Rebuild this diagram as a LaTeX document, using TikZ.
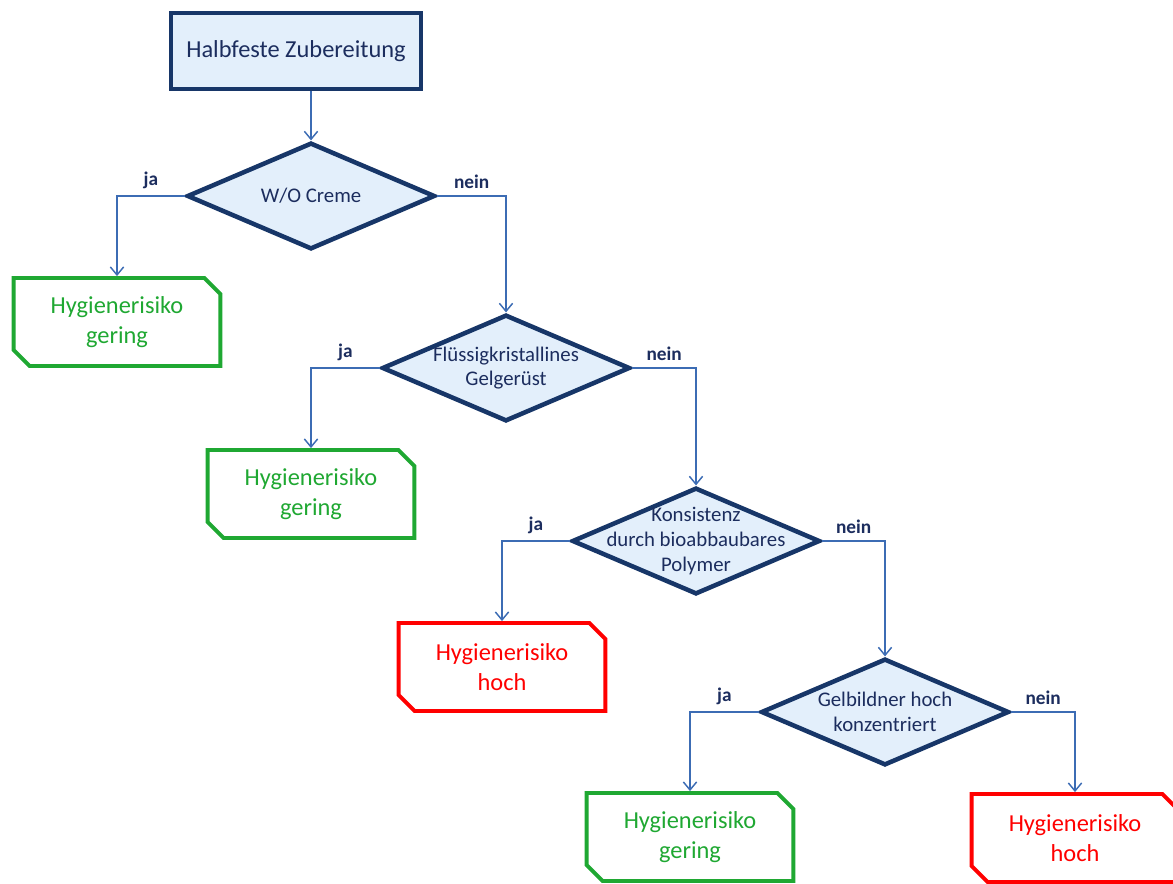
\documentclass[tikz,border=0pt]{standalone}
\usepackage{fontspec}
\setmainfont{Carlito}
\usetikzlibrary{shapes.geometric,shapes.misc,arrows.meta}

\definecolor{boxfill}{HTML}{E3EFFB}
\definecolor{boxline}{HTML}{173668}
\definecolor{boxtext}{HTML}{1C2D5E}
\definecolor{connline}{HTML}{3C6CB4}
\definecolor{riskgreen}{HTML}{1FA832}
\definecolor{riskred}{HTML}{FF0000}

\tikzset{
  startbox/.style={rectangle,draw=boxline,fill=boxfill,line width=3.2pt,
    minimum width=187pt,minimum height=57pt,text=boxtext,
    font=\fontsize{18.3}{22}\selectfont},
  decision/.style={diamond,draw=boxline,fill=boxfill,line width=3.4pt,
    minimum width=186pt,minimum height=80pt,inner sep=0pt},
  dectext/.style={align=center,text=boxtext,font=\fontsize{15.6}{18.5}\selectfont},
  risk/.style={chamfered rectangle,chamfered rectangle corners={north east,south west},
    chamfered rectangle sep=6pt,line width=2.9pt,fill=white,
    minimum width=155pt,minimum height=66pt,align=center,
    font=\fontsize{18.3}{23}\selectfont},
  low/.style={risk,draw=riskgreen,text=riskgreen},
  high/.style={risk,draw=riskred,text=riskred},
  conn/.style={draw=connline,line width=1.1pt,-{Straight Barb[length=6pt,width=10pt]}},
  answer/.style={text=boxtext,font=\fontsize{14.5}{16}\bfseries\selectfont,above=1.5pt,pos=0.25}
}

\begin{document}
\begin{tikzpicture}[x=0.75pt,y=-0.75pt]
  \useasboundingbox (0,0) rectangle (1173,884);

  % start and decisions
  \node[startbox] (start) at (296,51) {Halbfeste Zubereitung};
  \node[decision,label={[dectext]center:W/O Creme}] (wo) at (311,196) {};
  \node[decision,label={[dectext]center:{Flüssigkristallines\\Gelgerüst}}] (lc) at (506,368) {};
  \node[decision,label={[dectext]center:{Konsistenz\\durch bioabbaubares\\Polymer}}] (poly) at (696,541) {};
  \node[decision,label={[dectext]center:{Gelbildner hoch\\konzentriert}}] (gel) at (885,712) {};

  % results
  \node[low] (wolow) at (117,322) {Hygienerisiko\\gering};
  \node[low] (lclow) at (311,494) {Hygienerisiko\\gering};
  \node[high] (polyhigh) at (502,667) {Hygienerisiko\\hoch};
  \node[low] (gellow) at (690,837) {Hygienerisiko\\gering};
  \node[high] (gelhigh) at (1075,838) {Hygienerisiko\\hoch};

  % connectors
  \draw[conn] (start.south -| wo.north) -- (wo.north);
  \draw[conn] (wo.west) -| node[answer]{ja} (wolow.north);
  \draw[conn] (wo.east) -| node[answer]{nein} (lc.north);
  \draw[conn] (lc.west) -| node[answer]{ja} (lclow.north);
  \draw[conn] (lc.east) -| node[answer]{nein} (poly.north);
  \draw[conn] (poly.west) -| node[answer]{ja} (polyhigh.north);
  \draw[conn] (poly.east) -| node[answer]{nein} (gel.north);
  \draw[conn] (gel.west) -| node[answer]{ja} (gellow.north);
  \draw[conn] (gel.east) -| node[answer]{nein} (gelhigh.north);
\end{tikzpicture}
\end{document}
